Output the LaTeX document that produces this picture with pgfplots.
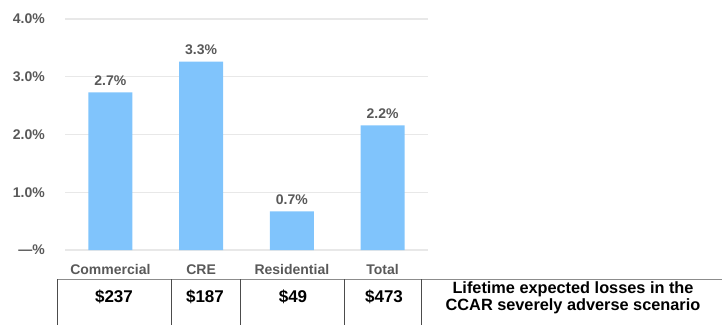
\documentclass[border=0pt]{standalone}
\usepackage{fontspec}
\setmainfont{Liberation Sans}
\usepackage{pgfplots}
\pgfplotsset{compat=1.18}
\definecolor{barblue}{HTML}{80C4FC}
\definecolor{lblgray}{HTML}{595959}
\definecolor{gridgray}{HTML}{E8E8E8}
\begin{document}
\begin{tikzpicture}[x=1pt,y=1pt]
\useasboundingbox (0,0) rectangle (722,325);
\begin{axis}[
  at={(65pt,75pt)}, anchor=south west,
  scale only axis, width=363pt, height=231pt,
  xmin=-0.5, xmax=3.5, ymin=0, ymax=4,
  axis line style={draw=none},
  major tick length=0pt,
  ytick={0,1,2,3,4},
  yticklabels={\textbf{—\%},\textbf{1.0\%},\textbf{2.0\%},\textbf{3.0\%},\textbf{4.0\%}},
  yticklabel style={anchor=east, inner sep=0pt, xshift=-20pt, font=\fontsize{14}{16}\selectfont, text=lblgray},
  xtick={0,1,2,3},
  xticklabels={\textbf{Commercial},\textbf{CRE},\textbf{Residential},\textbf{Total}},
  xticklabel style={anchor=base, inner sep=0pt, yshift=-24pt, font=\fontsize{14}{16}\selectfont, text=lblgray},
  ymajorgrids, grid style={gridgray, line width=1.3pt},
  clip=false,
]
\addplot[ybar, bar width=44pt, fill=barblue, draw=none,
  point meta=explicit symbolic,
  nodes near coords,
  nodes near coords style={anchor=base, inner sep=0pt, yshift=7pt, font=\fontsize{14}{16}\selectfont\bfseries, text=lblgray}]
  coordinates {(0,2.73)[2.7\%] (1,3.26)[3.3\%] (2,0.67)[0.7\%] (3,2.16)[2.2\%]};
\end{axis}
% table
\draw[color=black!45, line width=1pt] (57,46) -- (722,46);
\foreach \xx in {57,171,240,344,421} {
  \draw[color=black!70, line width=0.8pt] (\xx,46) -- (\xx,0);
}
\begin{scope}[every node/.style={font=\fontsize{17}{19}\selectfont\bfseries, text=black, inner sep=0pt}]
\node at (114,28) {\$237};
\node at (205,28) {\$187};
\node at (293,28) {\$49};
\node at (384,28) {\$473};
\node[align=center, font=\fontsize{16.3}{17}\selectfont\bfseries] at (573,27) {Lifetime expected losses in the\\CCAR severely adverse scenario};
\end{scope}
\end{tikzpicture}
\end{document}
